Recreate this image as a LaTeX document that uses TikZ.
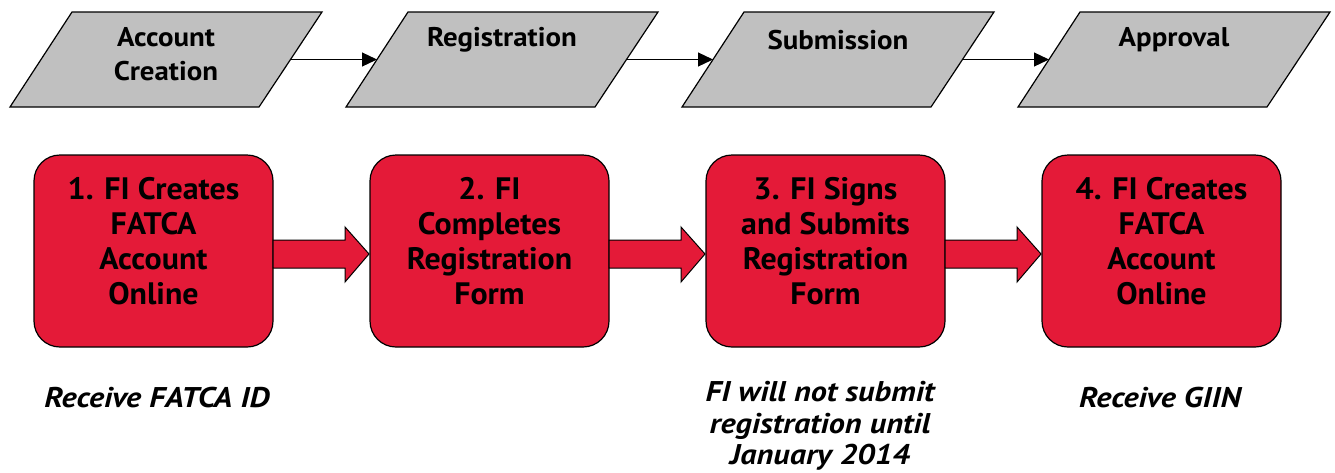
\documentclass[tikz,border=0pt]{standalone}
\usepackage{fontspec}
\setmainfont{PT Sans}
\usetikzlibrary{arrows.meta}
\definecolor{boxred}{HTML}{E41A38}
\definecolor{pargray}{HTML}{C0C0C0}
\tikzset{
  par/.style={draw=black, fill=pargray, line width=1.2pt},
  partext/.style={font=\bfseries\fontsize{27}{34}\selectfont\addfontfeatures{FakeStretch=1.07}, align=center},
  stepbox/.style={draw=black, fill=boxred, line width=1.2pt, rounded corners=26pt},
  boxtext/.style={font=\bfseries\fontsize{31}{35}\selectfont\addfontfeatures{FakeStretch=1.03}, align=center},
  blockarrow/.style={draw=black, fill=boxred, line width=1pt},
  note/.style={font=\bfseries\itshape\fontsize{28.5}{31.5}\selectfont\addfontfeatures{FakeStretch=1.13}, align=center},
  conn/.style={line width=1.2pt, -{Triangle[length=15pt,width=14pt]}}
}
\begin{document}
\begin{tikzpicture}[x=1pt,y=-1pt]
\useasboundingbox (0,0) rectangle (1335,472);
% parallelograms
\foreach \i/\dx in {1/0,2/336,3/672,4/1008}{
  \draw[par] (10+\dx,107) -- (72+\dx,12) -- (322+\dx,12) -- (259+\dx,107) -- cycle;
  \coordinate (pl\i) at (41+\dx,59.5);
  \coordinate (pr\i) at (290.5+\dx,59.5);
}
\node[partext] (p1) at (166,54) {Account\\Creation};
\node[partext] (p2) at (502,40) {Registration};
\node[partext] (p3) at (838,40) {Submission};
\node[partext] (p4) at (1174,40) {Approval};
\draw[conn] (pr1) -- (pl2);
\draw[conn] (pr2) -- (pl3);
\draw[conn] (pr3) -- (pl4);
% red boxes
\foreach \i/\dx in {1/0,2/336,3/672,4/1008}{
  \draw[stepbox] (34+\dx,155) rectangle (273+\dx,347);
}
% block arrows
\foreach \dx in {0,336,672}{
  \draw[blockarrow] (273+\dx,240) -- (345+\dx,240) -- (345+\dx,227) -- (369+\dx,254) -- (345+\dx,282) -- (345+\dx,268) -- (273+\dx,268) -- cycle;
}
\node[boxtext] (b1) at (153.5,241) {1. FI Creates\\FATCA\\Account\\Online};
\node[boxtext] (b2) at (489.5,241) {2. FI\\Completes\\Registration\\Form};
\node[boxtext] (b3) at (825.5,241) {3. FI Signs\\and Submits\\Registration\\Form};
\node[boxtext] (b4) at (1161.5,241) {4. FI Creates\\FATCA\\Account\\Online};
% notes
\node[note] (n1) at (157,398) {Receive FATCA ID};
\node[note] (n3) at (820,426) {FI will not submit\\registration until\\January 2014};
\node[note] (n4) at (1160,398) {Receive GIIN};
\end{tikzpicture}
\end{document}
